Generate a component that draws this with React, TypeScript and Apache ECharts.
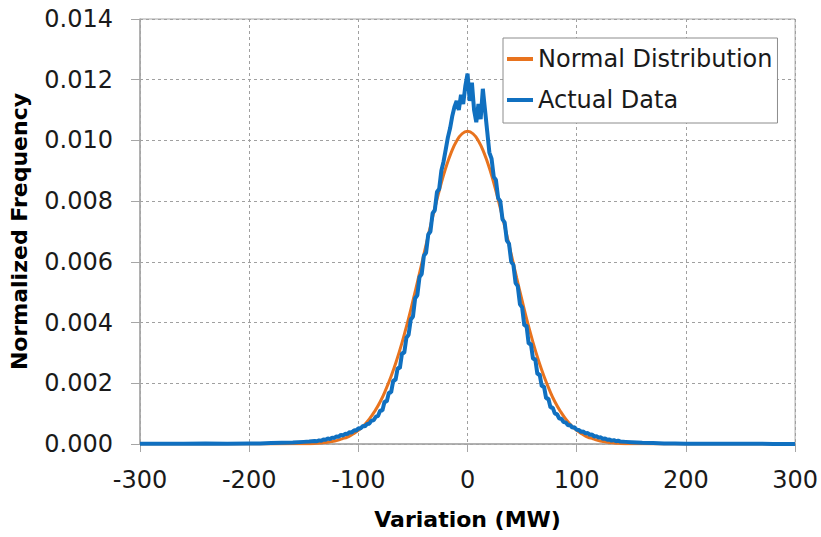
import React, { useEffect, useRef } from "react";
import * as echarts from "echarts";

const seriesNames = ["Normal Distribution", "Actual Data"];
const xAxisTitle = "Variation (MW)";
const yAxisTitle = "Normalized Frequency";

const normalX = [
  -300, -200, -160, -150, -140, -135, -130, -125, -120, -115, -110, -105, -100, -95, -90, -85, -80, -75, -70, -65,
  -60, -55, -50, -45, -40, -35, -30, -25, -20, -15, -10, -5, 0, 5, 10, 15, 20, 25, 30, 35, 40, 45, 50, 55, 60,
  65, 70, 75, 80, 85, 90, 95, 100, 105, 110, 115, 120, 125, 130, 135, 140, 150, 160, 200, 300,
];
const normalY = [
  0, 0, 0.000005, 0.00001, 0.00002, 0.00003, 0.00005, 0.00008, 0.00011, 0.00017, 0.00023, 0.00033, 0.00045,
  0.00061, 0.00082, 0.00108, 0.00139, 0.00178, 0.00223, 0.00275, 0.00334, 0.004, 0.00472, 0.00547, 0.00625,
  0.00702, 0.00777, 0.00847, 0.00909, 0.0096, 0.00998, 0.01022, 0.0103, 0.01022, 0.00998, 0.0096, 0.00909,
  0.00847, 0.00777, 0.00702, 0.00625, 0.00547, 0.00472, 0.004, 0.00334, 0.00275, 0.00223, 0.00178, 0.00139,
  0.00108, 0.00082, 0.00061, 0.00045, 0.00033, 0.00023, 0.00017, 0.00011, 0.00008, 0.00005, 0.00003, 0.00002,
  0.00001, 0.000005, 0, 0,
];

const actualX = [
  -300, -280, -260, -240, -220, -200, -190, -180, -170, -160, -150, -145,
  -140, -138, -136, -134, -132, -130, -128, -126, -124, -122, -120, -118, -116, -114, -112, -110, -108, -106,
  -104, -102, -100, -98, -96, -94, -92, -90, -88, -86, -84, -82, -80, -78, -76, -74, -72, -70, -68, -66, -64,
  -62, -60, -58, -56, -54, -52, -50, -48, -46, -44, -42, -40, -38, -36, -34, -32, -30, -28, -26, -24, -22,
  -20, -18, -16, -14, -12, -10, -8, -6, -4, -2, 0, 2, 4, 6, 8, 10, 12, 14, 16, 18, 20, 22, 24, 26, 28, 30, 32,
  34, 36, 38, 40, 42, 44, 46, 48, 50, 52, 54, 56, 58, 60, 62, 64, 66, 68, 70, 72, 74, 76, 78, 80, 82, 84, 86,
  88, 90, 92, 94, 96, 98, 100, 102, 104, 106, 108, 110, 112, 114, 116, 118, 120, 122, 124, 126, 128, 130, 132,
  134, 136, 138, 140,
  145, 150, 160, 170, 180, 190, 200, 220, 240, 260, 280, 300,
];
const actualY = [
  0.00001, 0.00001, 0.00001, 0.00002, 0.00001, 0.00002, 0.00002, 0.00003, 0.00004, 0.00005, 0.00007, 0.00008,
  0.0001, 0.00009, 0.00012, 0.00011, 0.00015, 0.00014, 0.00018, 0.00016, 0.00021, 0.0002, 0.00025, 0.00024,
  0.0003, 0.00028, 0.00034, 0.00033, 0.00039, 0.00038, 0.00045, 0.00044,
  0.00052, 0.00051, 0.00059, 0.00058, 0.00066, 0.00067, 0.00077, 0.00078, 0.0009, 0.00092, 0.0011, 0.0011,
  0.0014, 0.0014, 0.0017, 0.0017, 0.0021, 0.0021, 0.0025, 0.0025, 0.003, 0.003, 0.0035, 0.0036, 0.0041, 0.0042,
  0.0048, 0.0049, 0.0055, 0.0056, 0.0062, 0.0063, 0.0069, 0.007, 0.0076, 0.0077, 0.0083, 0.0084, 0.009, 0.0093,
  0.0097, 0.0101, 0.0104, 0.0108, 0.0111, 0.0113, 0.011, 0.0115, 0.0112, 0.0118, 0.0122, 0.0113, 0.0119,
  0.011, 0.0106, 0.0112, 0.0107, 0.0117, 0.011, 0.0103, 0.0096,
  0.0094, 0.0088, 0.0087, 0.0081, 0.008, 0.0074, 0.0073, 0.0067, 0.0066, 0.006, 0.0059, 0.0053, 0.0052,
  0.0046, 0.0045, 0.0039, 0.0039, 0.0033, 0.0033, 0.0028, 0.0028, 0.0023, 0.0023, 0.0019, 0.0019, 0.0015,
  0.0015, 0.0012, 0.0012, 0.001, 0.00098, 0.00084, 0.00083, 0.00072, 0.00071, 0.00062, 0.00062, 0.00054,
  0.00055, 0.00047,
  0.00046, 0.0004, 0.00041, 0.00035, 0.00036, 0.0003, 0.00031, 0.00025, 0.00026, 0.00021,
  0.00022, 0.00017, 0.00018, 0.00014, 0.00015, 0.00011, 0.00013, 0.00009, 0.00011, 0.00008,
  0.00007, 0.00006, 0.00004, 0.00003, 0.00002, 0.00002, 0.00001, 0.00001, 0.00001, 0.00001, 0, 0,
];

const FONT = "DejaVu Sans";

export default function App() {
  const ref = useRef<HTMLDivElement>(null);
  useEffect(() => {
    if (!ref.current) return;
    const chart = echarts.init(ref.current, null, { renderer: "svg" });
    const normalData = normalX.map((x, i) => [x, normalY[i]]);
    const actualData = actualX.map((x, i) => [x, actualY[i]]);
    chart.setOption({
      animation: false,
      backgroundColor: "#ffffff",
      grid: {
        left: 137,
        right: 24,
        top: 19,
        bottom: 93,
        show: true,
        borderColor: "#a6a6a6",
        borderWidth: 1,
        backgroundColor: "transparent",
      },
      legend: {
        orient: "vertical",
        left: 503,
        top: 38,
        padding: [8, 5, 10, 4],
        itemGap: 15,
        itemWidth: 26,
        itemHeight: 4,
        icon: "rect",
        backgroundColor: "#ffffff",
        borderColor: "#8c8c8c",
        borderWidth: 1,
        borderRadius: 0,
        textStyle: { fontFamily: FONT, fontSize: 24, color: "#1a1a1a", lineHeight: 26 },
        data: seriesNames,
      },
      xAxis: {
        type: "value",
        min: -300,
        max: 300,
        interval: 100,
        name: xAxisTitle,
        nameLocation: "middle",
        nameGap: 64,
        nameTextStyle: { fontFamily: FONT, fontSize: 22, fontWeight: "bold", color: "#000000" },
        axisLine: { show: true, onZero: false, lineStyle: { color: "#a6a6a6", width: 1.5 } },
        axisTick: { show: true, length: 8, lineStyle: { color: "#a6a6a6" } },
        axisLabel: { fontFamily: FONT, fontSize: 24, color: "#1a1a1a", margin: 24 },
        splitLine: { show: true, lineStyle: { color: "#a0a0a0", type: [3, 3], width: 1 } },
      },
      yAxis: {
        type: "value",
        min: 0,
        max: 0.014,
        interval: 0.002,
        name: yAxisTitle,
        nameLocation: "middle",
        nameGap: 110,
        nameTextStyle: { fontFamily: FONT, fontSize: 22, fontWeight: "bold", color: "#000000" },
        axisLine: { show: true, onZero: false, lineStyle: { color: "#a6a6a6", width: 1.5 } },
        axisTick: { show: true, length: 9, lineStyle: { color: "#a6a6a6" } },
        axisLabel: {
          fontFamily: FONT,
          fontSize: 24,
          color: "#1a1a1a",
          margin: 27,
          formatter: (v: number) => v.toFixed(3),
        },
        splitLine: { show: true, lineStyle: { color: "#a0a0a0", type: [3, 3], width: 1 } },
      },
      series: [
        {
          name: seriesNames[0],
          type: "line",
          data: normalData,
          smooth: true,
          showSymbol: false,
          symbol: "none",
          lineStyle: { color: "#E8731E", width: 3 },
          itemStyle: { color: "#E8731E" },
          z: 2,
        },
        {
          name: seriesNames[1],
          type: "line",
          data: actualData,
          showSymbol: false,
          symbol: "none",
          lineStyle: { color: "#1070C0", width: 4 },
          itemStyle: { color: "#1070C0" },
          z: 3,
        },
      ],
    });
    return () => chart.dispose();
  }, []);
  return (
    <div
      ref={ref}
      style={{ position: "fixed", left: 0, top: 0, width: 821, height: 537, background: "#fff" }}
    />
  );
}
